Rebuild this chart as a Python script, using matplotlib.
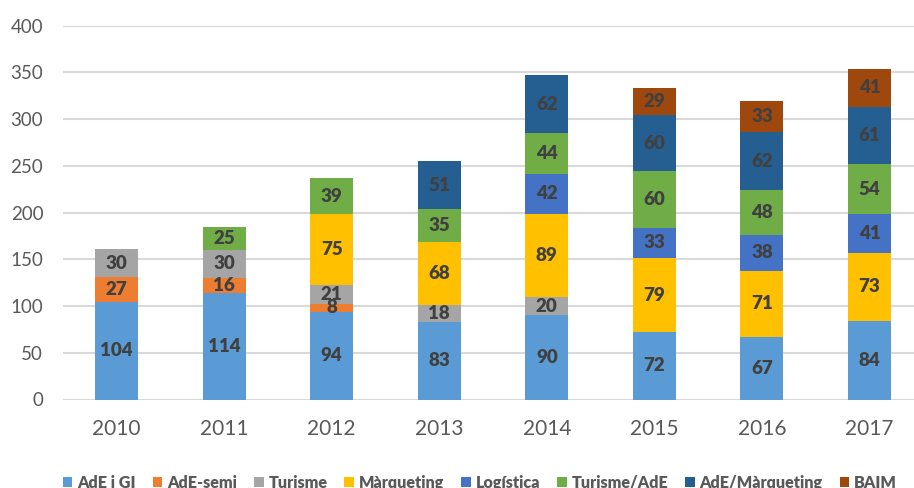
import matplotlib
matplotlib.use("Agg")
import matplotlib.pyplot as plt
from matplotlib.patches import Patch
import numpy as np

plt.rcParams['font.family'] = ['Lato', 'DejaVu Sans']

years = ['2010', '2011', '2012', '2013', '2014', '2015', '2016', '2017']
series_names = ['AdE i GI', 'AdE-semi', 'Turisme', 'Màrqueting', 'Logística',
                'Turisme/AdE', 'AdE/Màrqueting', 'BAIM']
ade_gi = [104, 114, 94, 83, 90, 72, 67, 84]
ade_semi = [27, 16, 8, 0, 0, 0, 0, 0]
turisme = [30, 30, 21, 18, 20, 0, 0, 0]
marqueting = [0, 0, 75, 68, 89, 79, 71, 73]
logistica = [0, 0, 0, 0, 42, 33, 38, 41]
turisme_ade = [0, 25, 39, 35, 44, 60, 48, 54]
ade_marq = [0, 0, 0, 51, 62, 60, 62, 61]
baim = [0, 0, 0, 0, 0, 29, 33, 41]
colors = ['#5B9BD5', '#ED7D31', '#A5A5A5', '#FFC000', '#4472C4',
          '#70AD47', '#255E91', '#9E480E']

data = [ade_gi, ade_semi, turisme, marqueting, logistica, turisme_ade, ade_marq, baim]

W, H = 914, 488
fig = plt.figure(figsize=(W / 100, H / 100), dpi=100)
left_px, right_px = 62.7, 914
top_px, bot_px = 25.7, 399.5
ax = fig.add_axes([left_px / W, 1 - bot_px / H, (right_px - left_px) / W, (bot_px - top_px) / H])

x = np.arange(len(years))
bottom = np.zeros(len(years))
for vals, c, name in zip(data, colors, series_names):
    v = np.array(vals, dtype=float)
    ax.bar(x, v, width=0.4, bottom=bottom, color=c, label=name, zorder=3)
    for xi, vi, bi in zip(x, v, bottom):
        if vi > 0:
            ax.text(xi, bi + vi / 2, f'{int(vi)}', ha='center', va='center',
                    fontsize=13.5, fontweight='heavy', color='#404040', zorder=4)
    bottom += v

spacing = 107.57
ax.set_xlim(-0.5, -0.5 + (right_px - left_px) / spacing)
ax.set_ylim(0, 400)
ax.set_yticks(range(0, 401, 50))
ax.set_xticks(x)
ax.set_xticklabels(years)
ax.grid(axis='y', color='#D9D9D9', linewidth=1.5, zorder=0)
for s in ax.spines.values():
    s.set_visible(False)
ax.tick_params(axis='y', length=0, pad=14, labelsize=13.5, labelcolor='#595959')
ax.tick_params(axis='x', length=0, pad=14, labelsize=15, labelcolor='#595959')

handles = [Patch(facecolor=c, edgecolor='none', label=n) for c, n in zip(colors, series_names)]
leg = fig.legend(handles=handles, loc='lower center', bbox_to_anchor=(0.525, -0.035),
                 ncol=8, frameon=False, handlelength=0.6, handleheight=0.6,
                 handletextpad=0.3, columnspacing=1.05,
                 prop={'weight': 'heavy', 'size': 11.6})
for t in leg.get_texts():
    t.set_color('#595959')

fig.savefig('out.png', dpi=100)
